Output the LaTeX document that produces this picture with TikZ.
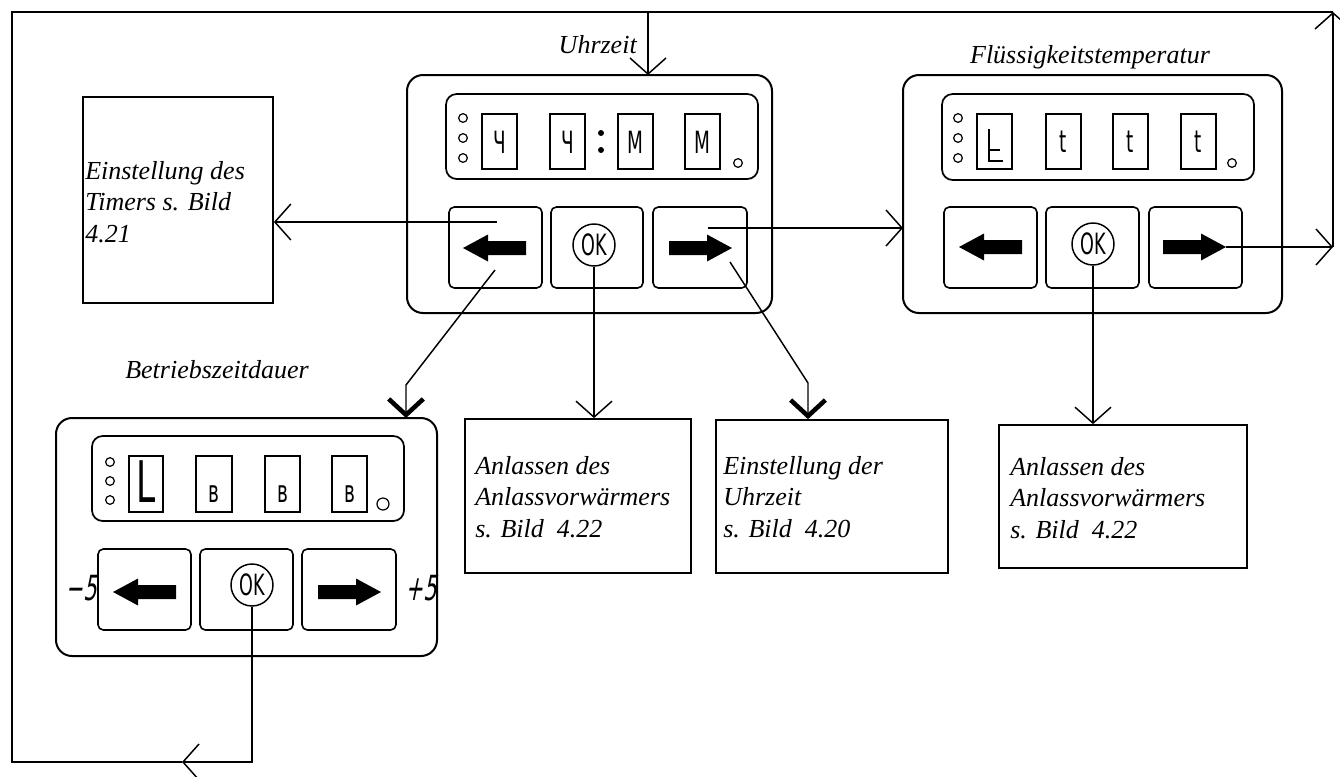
\documentclass[tikz,border=0pt]{standalone}
\usepackage{fontspec}
\setmainfont{Liberation Serif}
\newfontfamily\segfont[FakeStretch=0.6]{DejaVu Sans}
\newfontfamily\segslant[FakeStretch=0.6,FakeSlant=0.2]{DejaVu Sans}
\usetikzlibrary{arrows.meta,fit}
\tikzset{
 panel/.style={draw, line width=1.5pt, rounded corners=12pt, inner sep=0pt, outer sep=0pt},
 disp/.style={draw, line width=1.3pt, rounded corners=8pt, inner sep=0pt, outer sep=0pt},
 dbox/.style={draw, line width=1.2pt, inner sep=0pt},
 btn/.style={draw, line width=1.2pt, rounded corners=4pt, inner sep=0pt},
 led/.style={draw, circle, line width=0.9pt, minimum size=6.5pt, inner sep=0pt},
 bigled/.style={draw, circle, line width=0.9pt, minimum size=9pt, inner sep=0pt},
 dot/.style={circle, fill=black, minimum size=4.5pt, inner sep=0pt},
 okc/.style={draw, circle, line width=1.1pt, minimum size=31.5pt, inner sep=0pt, font=\segfont\fontsize{22}{22}\selectfont},
 glyph/.style={inner sep=0pt, font=\segfont\fontsize{23}{23}\selectfont},
 bigglyph/.style={inner sep=0pt, font=\segfont\fontsize{43}{43}\selectfont},
 pm/.style={inner sep=0pt, font=\segslant\fontsize{26}{26}\selectfont},
 seg/.style={line width=1.2pt},
 tbox/.style={draw, line width=1.3pt, inner sep=0pt},
 ttext/.style={inner sep=0pt, align=left, font=\itshape\fontsize{19.5}{23.4}\selectfont},
 lbl/.style={inner sep=0pt, font=\itshape\fontsize{19.5}{23.4}\selectfont},
 conn/.style={line width=1.1pt},
 tip/.style={-{Straight Barb[length=12pt,width=27pt]}},
 boldtip/.style={-{Straight Barb[length=12pt,width=26pt,line width=3.4pt]}},
 larr/.pic={\fill (0,0) -- (25,-13.5) -- (25,-7) -- (63,-7) -- (63,7) -- (25,7) -- (25,13.5) -- cycle;},
 rarr/.pic={\fill (0,0) -- (-25,-13.5) -- (-25,-7) -- (-63,-7) -- (-63,7) -- (-25,7) -- (-25,13.5) -- cycle;},
}
\begin{document}
\begin{tikzpicture}[x=0.75pt,y=-0.75pt]
\useasboundingbox (0,0) rectangle (1340,776);
\fill[white] (0,0) rectangle (1340,776);
\clip (0,0) rectangle (1340,776);

% ---------- centre panel (Uhrzeit) ----------
\node[panel, fit={(407,75) (772,313)}] (C) {};
\node[disp, fit={(446,94) (758,179)}] (C-disp) {};
\foreach \y [count=\i] in {118,138,158} \node[led] (C-led\i) at (463,\y) {};
\node[dbox, fit={(482,114) (517,169)}] (C-d1) {};
\node[dbox, fit={(550,114) (585,169)}] (C-d2) {};
\node[dbox, fit={(618,114) (653,169)}] (C-d3) {};
\node[dbox, fit={(685,114) (720,169)}] (C-d4) {};
\node[glyph, anchor=base] (C-g1) at (499.5,153) {Ч};
\node[glyph, anchor=base] (C-g2) at (567.5,153) {Ч};
\node[glyph, anchor=base] (C-g3) at (635.5,153) {M};
\node[glyph, anchor=base] (C-g4) at (702.5,153) {M};
\node[dot] (C-c1) at (601,133) {};
\node[dot] (C-c2) at (601,150) {};
\node[led] (C-led4) at (738,163) {};
\node[btn, fit={(449,207) (542,288)}] (C-b1) {};
\node[btn, fit={(551,207) (643,288)}] (C-b2) {};
\node[btn, fit={(653,207) (747,288)}] (C-b3) {};
\node[okc] (C-ok) at (594,245) {OK};
\pic at (463,248) {larr};
\pic at (732,248) {rarr};

% ---------- right panel (Fluessigkeitstemperatur) ----------
\node[panel, fit={(903,75) (1282,313)}] (R) {};
\node[disp, fit={(942,94) (1254,180)}] (R-disp) {};
\foreach \y [count=\i] in {118,138,158} \node[led] (R-led\i) at (958,\y) {};
\node[dbox, fit={(977,114) (1012,169)}] (R-d1) {};
\node[dbox, fit={(1046,114) (1081,169)}] (R-d2) {};
\node[dbox, fit={(1113,114) (1148,169)}] (R-d3) {};
\node[dbox, fit={(1181,114) (1216,169)}] (R-d4) {};
\draw[seg] (989,129) -- (989,161) -- (1003,161) (989,150) -- (1000,150);
\node[glyph, anchor=base] (R-g2) at (1063.5,152) {t};
\node[glyph, anchor=base] (R-g3) at (1130.5,152) {t};
\node[glyph, anchor=base] (R-g4) at (1198.5,152) {t};
\node[led] (R-led4) at (1232,163) {};
\node[btn, fit={(944,207) (1037,288)}] (R-b1) {};
\node[btn, fit={(1046,207) (1139,288)}] (R-b2) {};
\node[btn, fit={(1149,207) (1242,288)}] (R-b3) {};
\node[okc] (R-ok) at (1093,244) {OK};
\pic at (959,247) {larr};
\pic at (1226,247) {rarr};

% ---------- bottom panel (Betriebszeitdauer) ----------
\node[panel, fit={(56,418) (437,656)}] (B) {};
\node[disp, fit={(92,436) (404,521)}] (B-disp) {};
\foreach \y [count=\i] in {462,481,500} \node[led] (B-led\i) at (110,\y) {};
\node[dbox, fit={(129,456) (163,512)}] (B-d1) {};
\node[dbox, fit={(196,456) (232,512)}] (B-d2) {};
\node[dbox, fit={(265,456) (300,512)}] (B-d3) {};
\node[dbox, fit={(332,456) (367,512)}] (B-d4) {};
\node[bigglyph, anchor=base] (B-g1) at (146,502) {L};
\node[glyph, anchor=base] (B-g2) at (214,502) {в};
\node[glyph, anchor=base] (B-g3) at (282.5,502) {в};
\node[glyph, anchor=base] (B-g4) at (349.5,502) {в};
\node[bigled] (B-led4) at (383,504) {};
\node[btn, fit={(98,549) (191,630)}] (B-b1) {};
\node[btn, fit={(200,549) (293,630)}] (B-b2) {};
\node[btn, fit={(302,549) (396,630)}] (B-b3) {};
\node[okc] (B-ok) at (252,585) {OK};
\pic at (113,592) {larr};
\pic at (381,592) {rarr};
\node[pm, anchor=base] (B-minus) at (81,600) {−5};
\node[pm, anchor=base] (B-plus) at (421,600) {+5};

% ---------- text boxes (anchor = baseline of last line) ----------
\node[tbox, fit={(83,97) (273,303)}] (T) {};
\node[ttext, anchor=base west] (T-t) at (85,242) {Einstellung des\\Timers s. Bild\\4.21};
\node[tbox, fit={(465,419) (691,573)}] (A1) {};
\node[ttext, anchor=base west] (A1-t) at (475,537) {Anlassen des\\Anlassvorwärmers\\s. Bild\ \ 4.22};
\node[tbox, fit={(716,420) (948,573)}] (E) {};
\node[ttext, anchor=base west] (E-t) at (723,537) {Einstellung der\\Uhrzeit\\s. Bild\ \ 4.20};
\node[tbox, fit={(999,425) (1247,568)}] (A2) {};
\node[ttext, anchor=base west] (A2-t) at (1010,538) {Anlassen des\\Anlassvorwärmers\\s. Bild\ \ 4.22};

% ---------- labels ----------
\node[lbl, anchor=base east] (L-uhr) at (637,53) {Uhrzeit};
\node[lbl, anchor=base] (L-fl) at (1090,63) {Flüssigkeitstemperatur};
\node[lbl, anchor=base west] (L-be) at (125,378) {Betriebszeitdauer};

% ---------- connectors ----------
\coordinate (topL) at (12,12);
\coordinate (topR) at (1333,12);
\coordinate (topC) at (648,12);
\coordinate (botL) at (12,762);
\coordinate (botM) at (252,762);
\coordinate (midB) at (182,762);
\coordinate (loopR) at (1333,247);
\coordinate (cL) at (497,222);
\coordinate (cR) at (708,228);
\coordinate (cDL) at (495,270);
\coordinate (bendL) at (406,385);
\coordinate (cDR) at (730,262);
\coordinate (bendR) at (808,383);
\coordinate (rTip) at (1226,247);

\draw[conn,tip] (cL) -- (cL -| T.east);
\draw[conn,tip] (cR) -- (cR -| R.west);
\draw[conn,boldtip] (cDL) -- (bendL) -- (bendL |- B.north);
\draw[conn,tip] (C-ok.south) -- (C-ok.south |- A1.north);
\draw[conn,boldtip] (cDR) -- (bendR) -- (bendR |- E.north);
\draw[conn,tip] (R-ok.south) -- (R-ok.south |- A2.north);
\draw[conn,tip] (rTip) -- (loopR);
\draw[conn,tip] (loopR) -- (topR);
\draw[conn,tip] (B-ok.south) -- (botM) -- (midB);
\draw[conn] (midB) -- (botL) -- (topL) -- (topR);
\draw[conn,tip] (topC) -- (topC |- C.north);
\end{tikzpicture}
\end{document}
